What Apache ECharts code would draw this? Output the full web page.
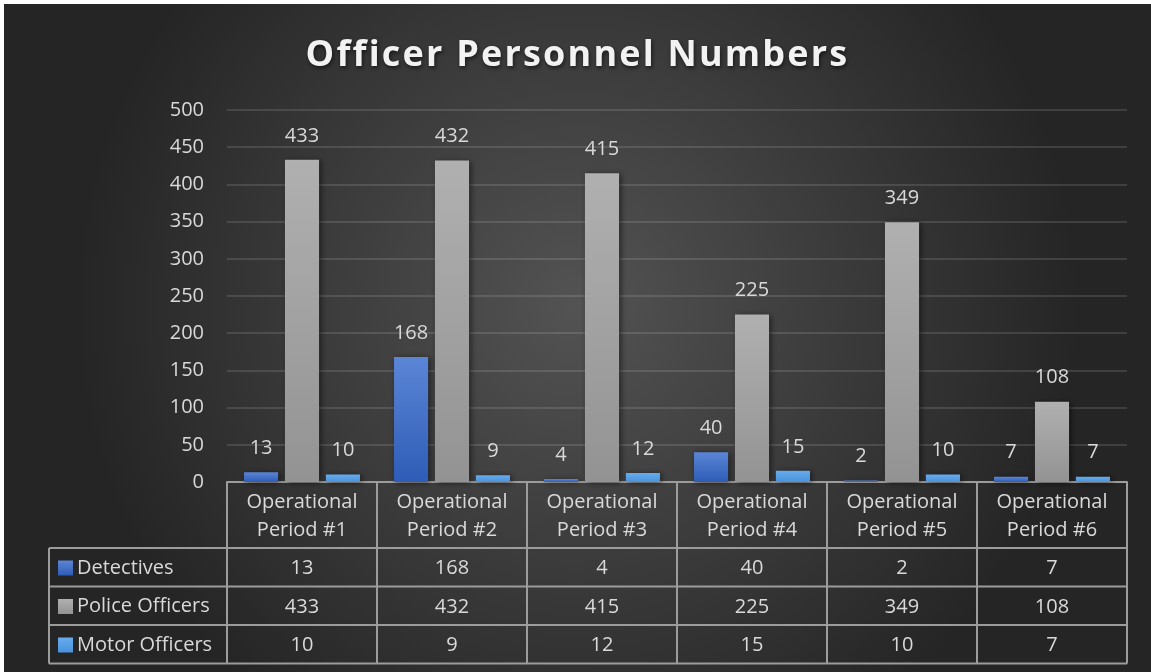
<!DOCTYPE html>
<html>
<head>
<meta charset="utf-8">
<script src="https://cdn.jsdelivr.net/npm/echarts@6/dist/echarts.min.js"></script>
<style>
  html, body { margin: 0; padding: 0; background: #ffffff; }
  #chart { position: absolute; left: 4px; top: 4px; width: 1147px; height: 668px; }
</style>
</head>
<body>
<div id="chart"></div>
<script>
// Personnel counts per operational period
const chartTitle = 'Officer Personnel Numbers';
const categories = [
  'Operational Period #1', 'Operational Period #2', 'Operational Period #3',
  'Operational Period #4', 'Operational Period #5', 'Operational Period #6'
];
const seriesNames = ['Detectives', 'Police Officers', 'Motor Officers'];
const detectives = [13, 168, 4, 40, 2, 7];
const policeOfficers = [433, 432, 415, 225, 349, 108];
const motorOfficers = [10, 9, 12, 15, 10, 7];
const yMin = 0, yMax = 500, yStep = 50;

const TEXT = '#d9d9d9';
const RULE = '#9c9c9c';
const FONT = '"Open Sans", "Noto Sans", sans-serif';

function vGrad(top, bottom) {
  return new echarts.graphic.LinearGradient(0, 0, 0, 1, [
    { offset: 0, color: top }, { offset: 1, color: bottom }
  ]);
}

// Title letters are set as separate rich runs so they can be tracked out a little
const titleStyle = {
  color: '#f2f2f2', fontSize: 36, fontWeight: 'bold', fontFamily: FONT,
  padding: [0, 2.2, 0, 0],
  textShadowColor: 'rgba(0,0,0,0.6)', textShadowBlur: 4, textShadowOffsetX: 1, textShadowOffsetY: 2
};
const titleRich = chartTitle.split('').map(ch => '{t|' + ch + '}').join('');

const barShadow = { shadowBlur: 6, shadowColor: 'rgba(0,0,0,0.55)', shadowOffsetX: 2, shadowOffsetY: 1 };
const seriesData = [detectives, policeOfficers, motorOfficers];
const seriesColors = [
  vGrad('#5b86d6', '#2e5cb6'),
  vGrad('#b0b0b0', '#939393'),
  vGrad('#66acec', '#4a92dc')
];

const chart = echarts.init(document.getElementById('chart'), null, { renderer: 'canvas' });

const option = {
  animation: false,
  backgroundColor: {
    type: 'radial', x: 0.5, y: 0.45, r: 0.75,
    colorStops: [{ offset: 0, color: '#535353' }, { offset: 1, color: '#252525' }]
  },
  textStyle: { fontFamily: FONT },
  title: {
    text: titleRich,
    left: 'center',
    top: 29,
    textStyle: Object.assign({}, titleStyle, { padding: 0, rich: { t: titleStyle } })
  },
  legend: {
    orient: 'vertical',
    left: 49,
    top: 549,
    itemWidth: 15,
    itemHeight: 15,
    itemGap: 18.5,
    selectedMode: false,
    icon: 'rect',
    data: seriesNames,
    textStyle: { color: TEXT, fontSize: 20, lineHeight: 20, fontFamily: FONT, padding: [0, 0, 0, -1] }
  },
  grid: { left: 223, right: 24, top: 106, bottom: 190, containLabel: false },
  xAxis: {
    type: 'category',
    data: categories,
    axisLine: { show: true, lineStyle: { color: RULE, width: 2 } },
    axisTick: { show: false },
    axisLabel: {
      color: TEXT, fontSize: 20, lineHeight: 28, margin: 6, interval: 0,
      fontFamily: FONT,
      formatter: v => v.replace(' Period', '\nPeriod')
    }
  },
  yAxis: {
    type: 'value',
    min: yMin, max: yMax, interval: yStep,
    axisLine: { show: false },
    axisTick: { show: false },
    axisLabel: { color: TEXT, fontSize: 20, margin: 23, fontFamily: FONT },
    splitLine: { lineStyle: { color: 'rgba(255,255,255,0.12)', width: 2 } }
  },
  series: seriesNames.map((name, i) => ({
    name,
    type: 'bar',
    data: seriesData[i],
    barGap: '20%',
    barCategoryGap: '22.7%',
    itemStyle: Object.assign({ color: seriesColors[i] }, barShadow),
    label: {
      show: true, position: 'top', distance: 14,
      color: TEXT, fontSize: 20, fontFamily: FONT
    }
  }))
};

chart.setOption(option);

// Data table beneath the plot: header borders, row rules and value cells
function buildTable() {
  const centers = categories.map(c => chart.convertToPixel({ xAxisIndex: 0 }, c));
  const band = centers[1] - centers[0];
  const xLeft = centers[0] - band / 2;
  const xRight = centers[centers.length - 1] + band / 2;
  const yTop = chart.convertToPixel({ yAxisIndex: 0 }, yMin);
  const headerH = 66;
  const rowH = 38.5;
  const tableLeft = 45;
  const rowTops = seriesNames.map((_, r) => yTop + headerH + r * rowH);
  const yBottom = yTop + headerH + seriesNames.length * rowH;
  const lineStyle = { stroke: RULE, lineWidth: 2 };
  const els = [];

  for (let k = 0; k <= categories.length; k++) {
    const x = xLeft + k * band;
    els.push({ type: 'line', shape: { x1: x, y1: yTop, x2: x, y2: yBottom }, style: lineStyle, silent: true });
  }
  els.push({ type: 'line', shape: { x1: tableLeft, y1: rowTops[0], x2: tableLeft, y2: yBottom }, style: lineStyle, silent: true });
  rowTops.concat([yBottom]).forEach(y => {
    els.push({ type: 'line', shape: { x1: tableLeft, y1: y, x2: xRight, y2: y }, style: lineStyle, silent: true });
  });
  seriesData.forEach((vals, r) => {
    vals.forEach((v, c) => {
      els.push({
        type: 'text',
        x: centers[c], y: rowTops[r] + rowH / 2 + 1.5,
        silent: true,
        style: {
          text: String(v), fill: TEXT, font: '20px ' + FONT,
          textAlign: 'center', textVerticalAlign: 'middle'
        }
      });
    });
  });
  chart.setOption({ graphic: { elements: els } });
}

buildTable();
</script>
</body>
</html>
